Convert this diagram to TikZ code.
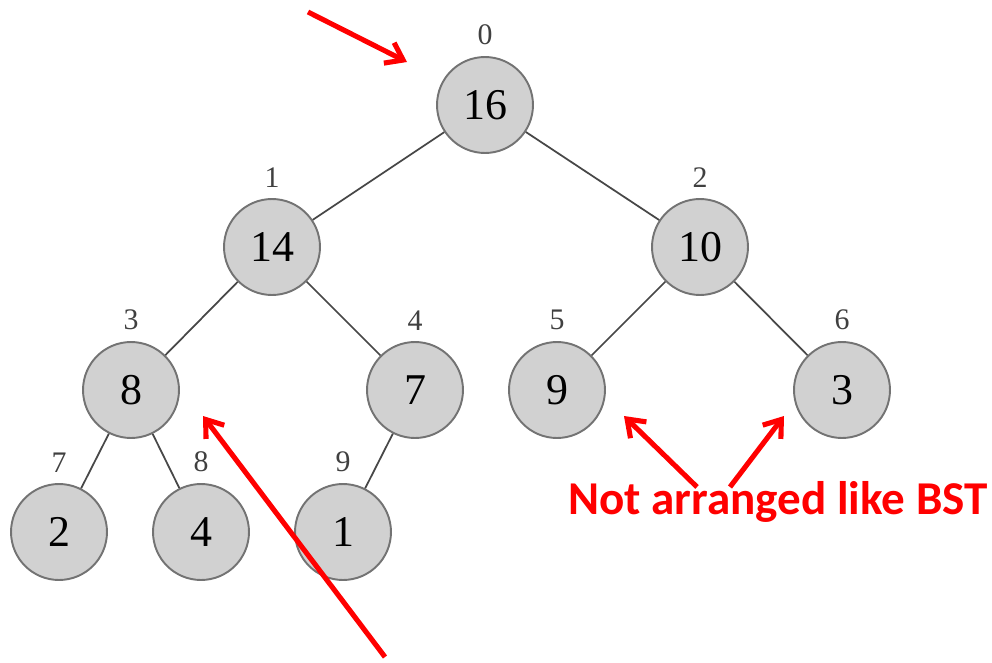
\documentclass[tikz,border=0pt]{standalone}
\usepackage{fontspec}
\setmainfont{Liberation Serif}
\newfontfamily\notefont{Carlito}
\usetikzlibrary{arrows.meta}

\begin{document}
\begin{tikzpicture}[
    x=0.02cm, y=-0.02cm,
    heapnode/.style={circle,draw=black!55,line width=1.1pt,fill=black!18,minimum size=1.92cm,inner sep=0pt,font=\fontsize{25}{25}\selectfont},
    idx/.style={font=\fontsize{17}{17}\selectfont,text=black!75,inner sep=0pt,label distance=6pt},
    link/.style={draw=black!72,line width=1pt},
    pointer/.style={draw=red,line width=2.9pt,-{Straight Barb[length=9pt,width=13pt]}},
    note/.style={text=red,font=\notefont\bfseries\fontsize{26.8}{30}\selectfont,inner sep=0pt}
]
    \useasboundingbox (0,0) rectangle (992,663);

    % heap as an array laid out level by level
    \node[heapnode,label={[idx]above:0}] (n0) at (485,105) {16};
    \node[heapnode,label={[idx]above:1}] (n1) at (272,247) {14};
    \node[heapnode,label={[idx]above:2}] (n2) at (700,247) {10};
    \node[heapnode,label={[idx]above:3}] (n3) at (131,390) {8};
    \node[heapnode,label={[idx]above:4}] (n4) at (415,390) {7};
    \node[heapnode,label={[idx]above:5}] (n5) at (557,390) {9};
    \node[heapnode,label={[idx]above:6}] (n6) at (842,390) {3};
    \node[heapnode,label={[idx]above:7}] (n7) at (59,532)  {2};
    \node[heapnode,label={[idx]above:8}] (n8) at (201,532) {4};
    \node[heapnode,label={[idx]above:9}] (n9) at (343,532) {1};

    \draw[link] (n0) -- (n1);
    \draw[link] (n0) -- (n2);
    \draw[link] (n1) -- (n3);
    \draw[link] (n1) -- (n4);
    \draw[link] (n2) -- (n5);
    \draw[link] (n2) -- (n6);
    \draw[link] (n3) -- (n7);
    \draw[link] (n3) -- (n8);
    \draw[link] (n4) -- (n9);

    % red remarks
    \node[note,anchor=base] (remark) at (778,514) {Not arranged like BST};

    \coordinate (rootfrom) at (308,12);
    \coordinate (rootto)   at (407,62);
    \coordinate (leftfrom) at (385,657);
    \coordinate (leftto)   at (203,416);
    \coordinate (bstfromA) at (697,487);
    \coordinate (bsttoA)   at (624,416);
    \coordinate (bstfromB) at (730,487);
    \coordinate (bsttoB)   at (784,416);

    \draw[pointer] (rootfrom) -- (rootto);
    \draw[pointer] (leftfrom) -- (leftto);
    \draw[pointer] (bstfromA) -- (bsttoA);
    \draw[pointer] (bstfromB) -- (bsttoB);
\end{tikzpicture}
\end{document}
